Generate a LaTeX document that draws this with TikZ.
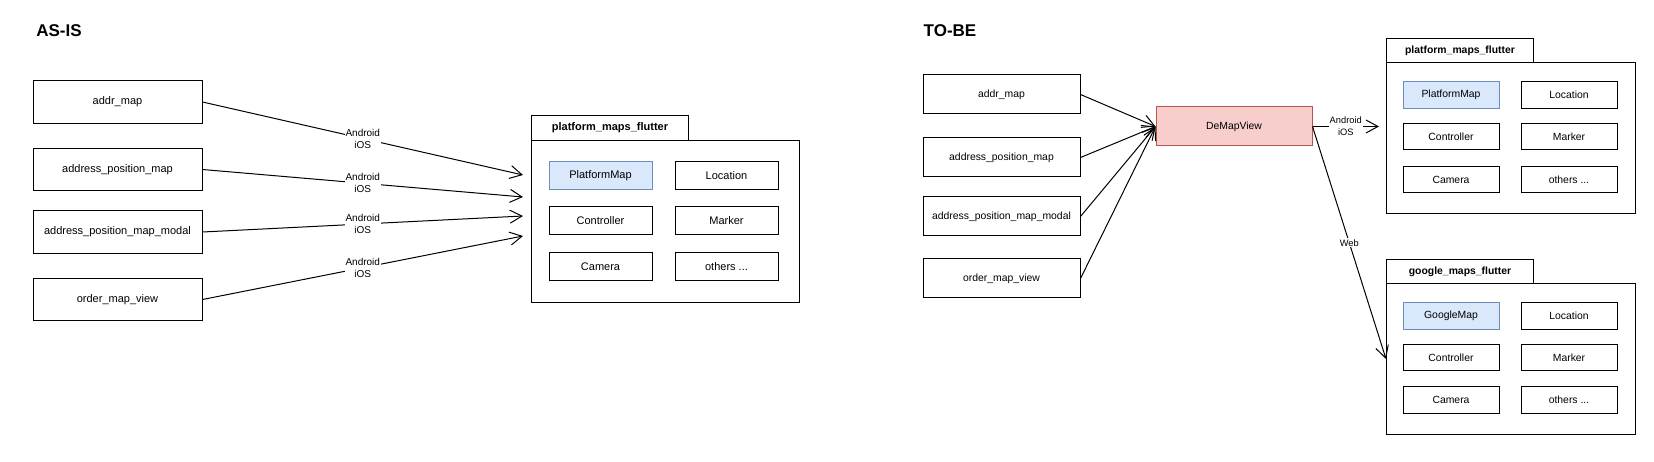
\documentclass[tikz,border=0pt]{standalone}
\usepackage{fontspec}
\setmainfont{Liberation Sans}
\usetikzlibrary{arrows.meta}
\definecolor{mapfill}{HTML}{DAE8FC}
\definecolor{mapline}{HTML}{6C8EBF}
\definecolor{viewfill}{HTML}{F8CECC}
\definecolor{viewline}{HTML}{B85450}
\tikzset{
  heading/.style={font=\fontsize{17}{20}\selectfont\bfseries},
  asisbox/.style={draw, line width=1pt, minimum width=169pt, minimum height=42.5pt, font=\fontsize{11}{13}\selectfont},
  tobebox/.style={draw, line width=1pt, minimum width=157pt, minimum height=39pt, font=\fontsize{10.4}{12.5}\selectfont},
  asisitem/.style={draw, line width=1pt, minimum width=103pt, minimum height=28pt, font=\fontsize{11}{13}\selectfont},
  tobeitem/.style={draw, line width=1pt, minimum width=96pt, minimum height=26.5pt, font=\fontsize{10.4}{12.5}\selectfont},
  mapitem/.style={fill=mapfill, draw=mapline},
  pkgbody/.style={draw, line width=1pt, anchor=north west, inner sep=0pt},
  pkgtab/.style={draw, line width=1pt, anchor=north west, inner sep=0pt, font=\bfseries},
  via/.style={line width=1pt, -{Straight Barb[length=12pt,width=13pt]}},
  oslabel/.style={fill=white, inner sep=1pt, align=center},
}
\begin{document}
\begin{tikzpicture}[x=1pt,y=-1pt]
  \useasboundingbox (0,0) rectangle (1654,462);

  % AS-IS
  \node[heading] (asis) at (59,31) {AS-IS};
  \node[asisbox] (addr) at (117.5,102) {addr\_map};
  \node[asisbox] (addrpos) at (117.5,169.5) {address\_position\_map};
  \node[asisbox] (addrmodal) at (117.5,232) {address\_position\_map\_modal};
  \node[asisbox] (order) at (117.5,299.5) {order\_map\_view};

  \node[pkgbody, minimum width=268pt, minimum height=162pt] (pmbody) at (531,140) {};
  \node[pkgtab, minimum width=157pt, minimum height=25pt, font=\fontsize{11}{13}\selectfont\bfseries] (pmtab) at (531,115) {platform\_maps\_flutter};
  \node[asisitem, mapitem] (pmmap) at (600.5,176) {PlatformMap};
  \node[asisitem] (pmloc) at (726.5,176) {Location};
  \node[asisitem] (pmctrl) at (600.5,221) {Controller};
  \node[asisitem] (pmmark) at (726.5,221) {Marker};
  \node[asisitem] (pmcam) at (600.5,266.5) {Camera};
  \node[asisitem] (pmother) at (726.5,266.5) {others ...};

  \coordinate (in1) at (523,175);
  \coordinate (in2) at (523,197);
  \coordinate (in3) at (523,216);
  \coordinate (in4) at (523,236);
  \draw[via] (addr.east) -- (in1) node[oslabel, pos=0.5, font=\fontsize{10}{12}\selectfont] {Android\\iOS};
  \draw[via] (addrpos.east) -- (in2) node[oslabel, pos=0.5, font=\fontsize{10}{12}\selectfont] {Android\\iOS};
  \draw[via] (addrmodal.east) -- (in3) node[oslabel, pos=0.5, font=\fontsize{10}{12}\selectfont] {Android\\iOS};
  \draw[via] (order.east) -- (in4) node[oslabel, pos=0.5, font=\fontsize{10}{12}\selectfont] {Android\\iOS};

  % TO-BE
  \node[heading] (tobe) at (950,31) {TO-BE};
  \node[tobebox] (newaddr) at (1001.5,94.5) {addr\_map};
  \node[tobebox] (newaddrpos) at (1001.5,157.5) {address\_position\_map};
  \node[tobebox] (newaddrmodal) at (1001.5,216.5) {address\_position\_map\_modal};
  \node[tobebox] (neworder) at (1001.5,278.5) {order\_map\_view};
  \node[tobebox, fill=viewfill, draw=viewline, minimum width=156pt] (demap) at (1234,126.5) {DeMapView};

  \node[pkgbody, minimum width=249pt, minimum height=151pt] (pfbody) at (1386,62) {};
  \node[pkgtab, minimum width=147pt, minimum height=24pt, font=\fontsize{10.4}{12.5}\selectfont\bfseries] (pftab) at (1386,38) {platform\_maps\_flutter};
  \node[tobeitem, mapitem] (pfmap) at (1451,95) {PlatformMap};
  \node[tobeitem] (pfloc) at (1569,95) {Location};
  \node[tobeitem] (pfctrl) at (1451,136.5) {Controller};
  \node[tobeitem] (pfmark) at (1569,136.5) {Marker};
  \node[tobeitem] (pfcam) at (1451,179.5) {Camera};
  \node[tobeitem] (pfother) at (1569,179.5) {others ...};

  \node[pkgbody, minimum width=249pt, minimum height=151pt] (gmbody) at (1386,283) {};
  \node[pkgtab, minimum width=147pt, minimum height=24pt, font=\fontsize{10.4}{12.5}\selectfont\bfseries] (gmtab) at (1386,259) {google\_maps\_flutter};
  \node[tobeitem, mapitem] (gmmap) at (1451,316) {GoogleMap};
  \node[tobeitem] (gmloc) at (1569,316) {Location};
  \node[tobeitem] (gmctrl) at (1451,357.5) {Controller};
  \node[tobeitem] (gmmark) at (1569,357.5) {Marker};
  \node[tobeitem] (gmcam) at (1451,400) {Camera};
  \node[tobeitem] (gmother) at (1569,400) {others ...};

  \draw[via] (newaddr.east) -- (demap.west);
  \draw[via] (newaddrpos.east) -- (demap.west);
  \draw[via] (newaddrmodal.east) -- (demap.west);
  \draw[via] (neworder.east) -- (demap.west);
  \coordinate (pfin) at (1379,126.5);
  \draw[via] (demap.east) -- (pfin) node[oslabel, pos=0.5, font=\fontsize{9.3}{12}\selectfont] {Android\\iOS};
  \draw[via] (demap.east) -- (gmbody.west) node[oslabel, pos=0.5, font=\fontsize{9.3}{11}\selectfont] {Web};
\end{tikzpicture}
\end{document}
